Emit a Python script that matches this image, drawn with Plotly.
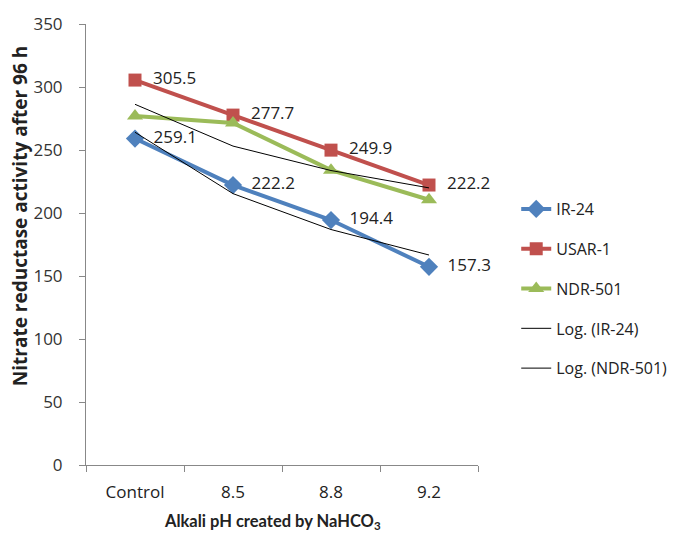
import numpy as np
import plotly.graph_objects as go

categories = ["Control", "8.5", "8.8", "9.2"]
ir24 = [259.1, 222.2, 194.4, 157.3]
usar1 = [305.5, 277.7, 249.9, 222.2]
ndr501 = [277.0, 271.5, 234.0, 210.5]
y_ticks = [0, 50, 100, 150, 200, 250, 300, 350]

FONT = "'Open Sans', sans-serif"
TFONT = "Lato, sans-serif"
BLUE = "#4F81BD"
RED = "#C0504D"
GREEN = "#9BBB59"
PAD = "\u00a0\u00a0"

x_idx = np.arange(1, len(categories) + 1)


def log_fit(vals):
    a, b = np.polyfit(np.log(x_idx), np.array(vals), 1)
    return list(a * np.log(x_idx) + b)


fig = go.Figure()
fig.add_trace(go.Scatter(
    x=categories, y=ir24, name="IR-24", mode="lines+markers+text",
    line=dict(color=BLUE, width=4), marker=dict(symbol="diamond", size=14, color=BLUE),
    text=[PAD + f"{v:.1f}" for v in ir24], textposition="middle right",
    textfont=dict(size=17, color="#222222", family=FONT), legendgroup="a",
    cliponaxis=False))
fig.add_trace(go.Scatter(
    x=categories, y=usar1, name="USAR-1", mode="lines+markers+text",
    line=dict(color=RED, width=4), marker=dict(symbol="square", size=13, color=RED),
    text=[PAD + f"{v:.1f}" for v in usar1], textposition="middle right",
    textfont=dict(size=17, color="#222222", family=FONT), legendgroup="b",
    cliponaxis=False))
fig.add_trace(go.Scatter(
    x=categories, y=ndr501, name="NDR-501", mode="lines+markers",
    line=dict(color=GREEN, width=4), marker=dict(symbol="triangle-up", size=14, color=GREEN),
    legendgroup="c", cliponaxis=False))
fig.add_trace(go.Scatter(
    x=categories, y=log_fit(ir24), name="Log. (IR-24)", mode="lines",
    line=dict(color="black", width=1), legendgroup="d"))
fig.add_trace(go.Scatter(
    x=categories, y=log_fit(ndr501), name="Log. (NDR-501)", mode="lines",
    line=dict(color="black", width=1), legendgroup="e"))

fig.update_layout(
    width=684, height=533,
    margin=dict(l=86, r=198, t=19, b=68),
    paper_bgcolor="white", plot_bgcolor="white",
    font=dict(family=FONT, size=16, color="#333333"),
    showlegend=True,
    legend=dict(x=1.0975, y=0.619, xanchor="left", yanchor="top",
                traceorder="grouped", tracegroupgap=16,
                font=dict(size=16, color="#222222", family=FONT),
                bgcolor="rgba(0,0,0,0)"),
    xaxis=dict(
        type="category", range=[-0.5, 3.5], tickson="boundaries",
        ticks="outside", ticklen=6, tickcolor="#888888",
        showline=True, linecolor="#888888", linewidth=1, showgrid=False,
        tickfont=dict(size=17, color="#222222"), ticklabelstandoff=12),
    yaxis=dict(
        range=[0, 350], tickvals=y_ticks, ticks="outside", ticklen=6,
        tickcolor="#888888", showline=True, linecolor="#888888", linewidth=1,
        showgrid=False, zeroline=False,
        tickfont=dict(size=17, color="#333333"), ticklabelstandoff=13),
    annotations=[
        dict(text="<b>Alkali pH created by NaHCO<sub>3</sub></b>",
             xref="paper", yref="paper", x=0.475, y=-0.128,
             xanchor="center", yanchor="middle", showarrow=False,
             font=dict(size=16.5, color="#222222", family=TFONT)),
        dict(text="<b>Nitrate reductase activity after 96 h</b>",
             xref="paper", yref="paper", x=-0.17, y=0.565, textangle=-90,
             xanchor="center", yanchor="middle", showarrow=False,
             font=dict(size=19, color="#222222", family=FONT)),
    ],
)

fig.write_html("out.html")
